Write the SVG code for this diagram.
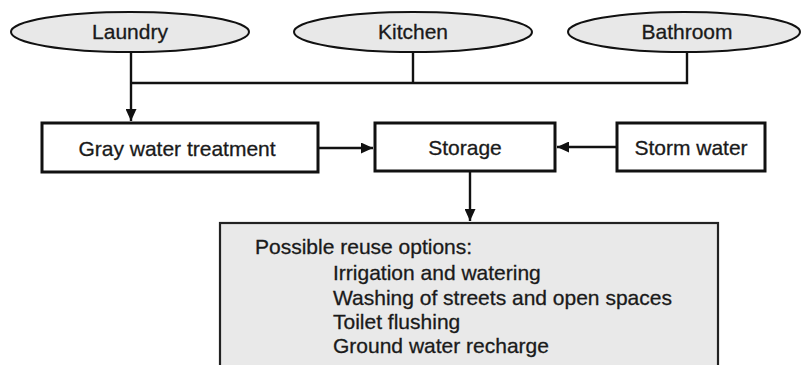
<svg xmlns="http://www.w3.org/2000/svg" width="801" height="365" viewBox="0 0 801 365">
<style>
.ell{fill:#e8e8e8;stroke:#111;stroke-width:2}
.box{fill:#fff;stroke:#111;stroke-width:3}
.opt{fill:#e9e9e9;stroke:#222;stroke-width:2.2}
.t{font-family:"Liberation Sans",Arial,sans-serif;font-size:21px;fill:#1a1a1a;stroke:#1a1a1a;stroke-width:0.3}
.c{text-anchor:middle}
.ln{fill:none;stroke:#111;stroke-width:2.4}
</style>
<defs>
<marker id="ah" viewBox="0 0 12 11" refX="12" refY="5.5" markerWidth="12" markerHeight="11" markerUnits="userSpaceOnUse" orient="auto">
<path d="M0,0 L12,5.5 L0,11 z" fill="#111"/>
</marker>
</defs>
<rect width="801" height="365" fill="#fff"/>
<g id="laundry"><ellipse class="ell" cx="130" cy="32" rx="119" ry="20"/><text class="t c" x="130" y="39">Laundry</text></g>
<g id="kitchen"><ellipse class="ell" cx="413" cy="32" rx="119" ry="20"/><text class="t c" x="413" y="39">Kitchen</text></g>
<g id="bathroom"><ellipse class="ell" cx="684" cy="32" rx="116" ry="20"/><text class="t c" x="687" y="39">Bathroom</text></g>
<g id="gray"><rect class="box" x="42" y="123" width="276" height="49"/><text class="t c" x="177" y="156">Gray water treatment</text></g>
<g id="storage"><rect class="box" x="375" y="123" width="180" height="48"/><text class="t c" x="465" y="155">Storage</text></g>
<g id="storm"><rect class="box" x="617" y="123" width="148" height="48"/><text class="t c" x="691" y="155">Storm water</text></g>
<g id="reuse"><rect class="opt" x="220" y="223" width="498" height="150"/>
<text class="t" x="255" y="254">Possible reuse options:</text>
<text class="t" x="333" y="280">Irrigation and watering</text>
<text class="t" x="333" y="305">Washing of streets and open spaces</text>
<text class="t" x="333" y="329">Toilet flushing</text>
<text class="t" x="333" y="353">Ground water recharge</text>
</g>
<g id="connectors">
<path class="ln" d="M131,52 V121" marker-end="url(#ah)"/>
<path class="ln" d="M131,83 H687 V52 M413,52 V83"/>
<path class="ln" d="M318,148 H373" marker-end="url(#ah)"/>
<path class="ln" d="M617,147 H557" marker-end="url(#ah)"/>
<path class="ln" d="M470,171 V221" marker-end="url(#ah)"/>
</g>
</svg>
